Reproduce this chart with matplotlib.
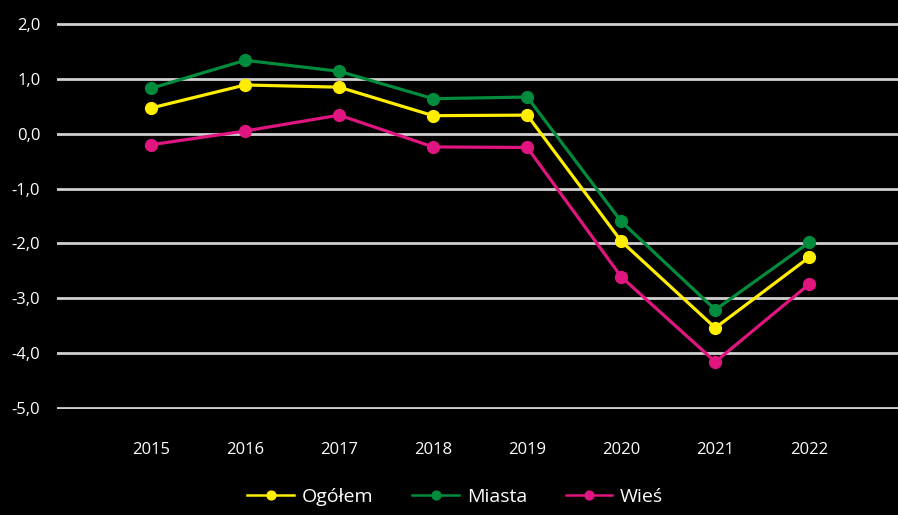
import numpy as np
import matplotlib.pyplot as plt
from matplotlib.ticker import FuncFormatter

years = ["2015", "2016", "2017", "2018", "2019", "2020", "2021", "2022"]
ogolem = [0.47, 0.89, 0.85, 0.33, 0.34, -1.96, -3.54, -2.25]
miasta = [0.83, 1.34, 1.14, 0.64, 0.67, -1.60, -3.21, -1.98]
wies = [-0.20, 0.05, 0.34, -0.24, -0.25, -2.61, -4.16, -2.74]

plt.rcParams['font.family'] = ['Open Sans', 'DejaVu Sans']

fig = plt.figure(figsize=(8.98, 5.15), dpi=100, facecolor='black')
ax = fig.add_axes([0.0635, 0.2058, 0.9365 + 0.006, 0.7495])
ax.set_facecolor('black')

x = np.arange(len(years))
series = [
    ("Ogółem", ogolem, '#ffee00'),
    ("Miasta", miasta, '#008c3c'),
    ("Wieś", wies, '#e0157f'),
]
# green first so yellow and pink sit on top, as in the reference
for name, vals, col in [series[1], series[0], series[2]]:
    ax.plot(x, vals, color=col, linewidth=2.3, marker='o', markersize=8.5,
            label=name, zorder=3)

ax.set_xlim(-1, 8)
ax.set_ylim(-5.02, 2.02)
ax.set_yticks(np.arange(-5, 2.1, 1))
ax.yaxis.set_major_formatter(FuncFormatter(lambda v, p: f"{v:.1f}".replace('.', ',')))
ax.set_xticks(x)
ax.set_xticklabels(years)
ax.grid(axis='y', color='#d0d0d0', linewidth=2, zorder=1)
ax.tick_params(axis='both', length=0, colors='white', labelsize=12)
ax.tick_params(axis='x', pad=24)
ax.tick_params(axis='y', pad=12)
for s in ax.spines.values():
    s.set_visible(False)

handles, labels = ax.get_legend_handles_labels()
order = [1, 0, 2]
leg = fig.legend([handles[i] for i in order], [labels[i] for i in order],
                 loc='center', bbox_to_anchor=(0.507, 0.035), ncol=3,
                 frameon=False, fontsize=14, handlelength=2.4, columnspacing=2.0,
                 handletextpad=0.4, markerscale=0.75)
for h in leg.legend_handles:
    h.set_linewidth(1.8)
for t in leg.get_texts():
    t.set_color('white')

fig.savefig('out.png', dpi=100, facecolor='black')
